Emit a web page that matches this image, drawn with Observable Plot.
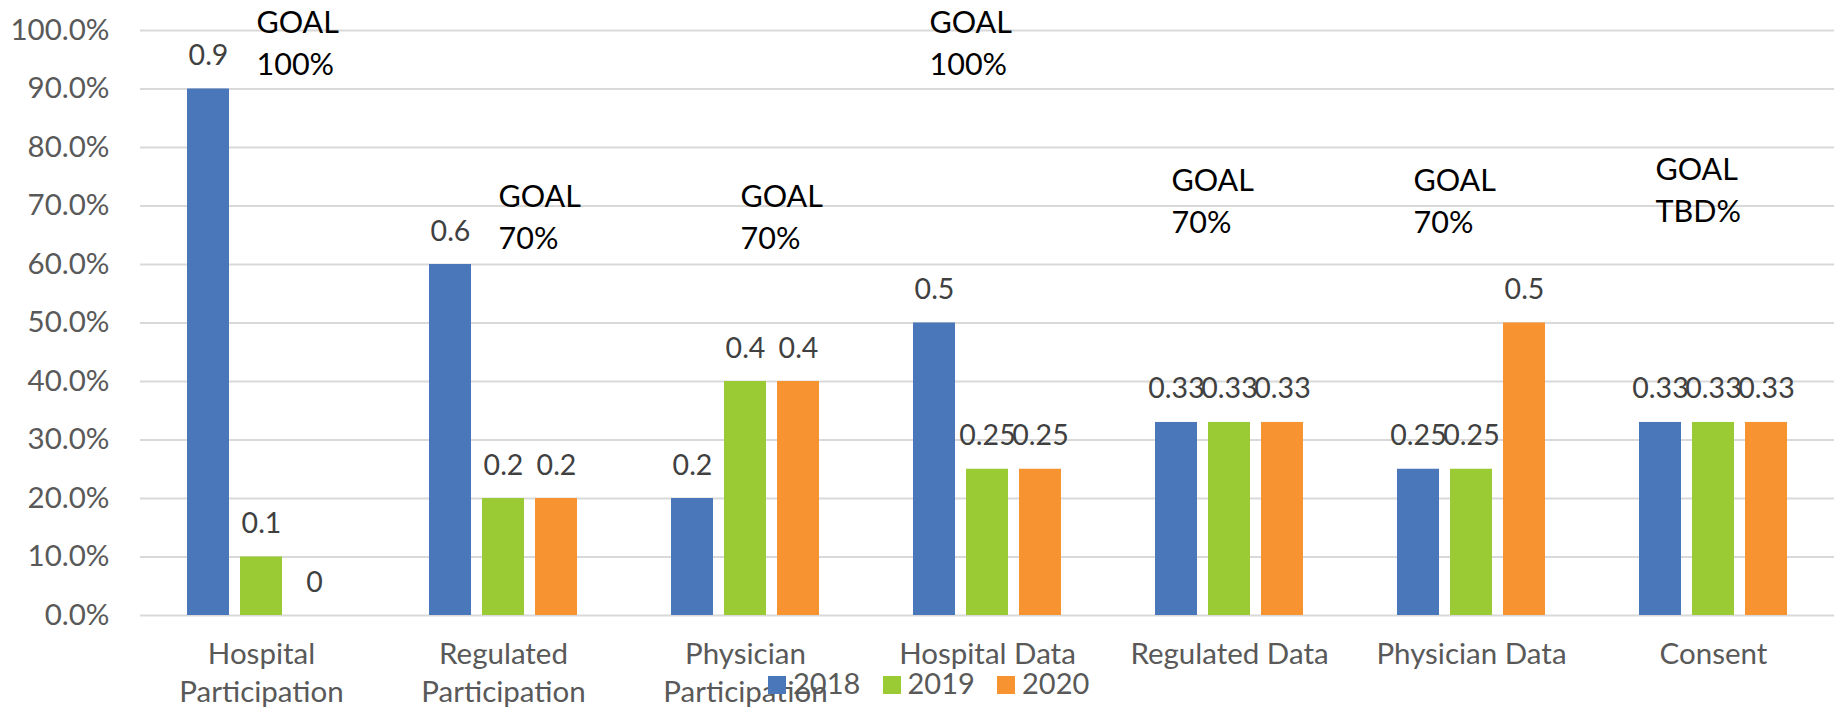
<!DOCTYPE html>
<html>
<head>
<meta charset="utf-8">
<script src="https://cdn.jsdelivr.net/npm/d3@7"></script>
<script src="https://cdn.jsdelivr.net/npm/@observablehq/plot@0.6"></script>
<style>
  html, body { margin: 0; padding: 0; background: #fff; }
  #wrap { position: relative; width: 1847px; height: 713px; font-family: Lato, "Open Sans", sans-serif; }
  #legend { position: absolute; left: 768px; top: 669px; display: flex; font-size: 29px; line-height: 28px; color: #595959; }
  #legend .item { display: flex; align-items: center; width: 114.5px; }
  #legend .sw { width: 18px; height: 18px; margin-right: 7px; position: relative; top: 2px; }
</style>
</head>
<body>
<div id="wrap"></div>
<script>
const categories = ["Hospital\nParticipation", "Regulated\nParticipation", "Physician\nParticipation", "Hospital Data", "Regulated Data", "Physician Data", "Consent"];
const years = ["2018", "2019", "2020"];
const colors = ["#4a77ba", "#9bcb34", "#f79431"];
const v2018 = [0.9, 0.6, 0.2, 0.5, 0.33, 0.25, 0.33];
const v2019 = [0.1, 0.2, 0.4, 0.25, 0.33, 0.25, 0.33];
const v2020 = [0, 0.2, 0.4, 0.25, 0.33, 0.5, 0.33];
const goalText = ["GOAL\n100%", "GOAL\n70%", "GOAL\n70%", "GOAL\n100%", "GOAL\n70%", "GOAL\n70%", "GOAL\nTBD%"];
const goalLevel = [1.0, 0.703, 0.703, 1.0, 0.73, 0.73, 0.75];
const goalAnchor = ["2019", "2019", "2019", "2018", "2018", "2018", "2018"];
const yTicks = [0, 0.1, 0.2, 0.3, 0.4, 0.5, 0.6, 0.7, 0.8, 0.9, 1.0];

const series = [v2018, v2019, v2020];
const rows = [];
categories.forEach((c, i) => years.forEach((y, j) => rows.push({category: c, year: y, value: series[j][i]})));
const goals = categories.map((c, i) => ({category: c, text: goalText[i], level: goalLevel[i], anchor: goalAnchor[i]}));

const chart = Plot.plot({
  width: 1847,
  height: 713,
  marginTop: 30,
  marginBottom: 98,
  marginLeft: 137,
  marginRight: 11,
  style: {fontFamily: "Lato, 'Open Sans', sans-serif", background: "#fff"},
  fx: {domain: categories, paddingInner: 0, paddingOuter: 0},
  x: {domain: years, paddingInner: 0.204, paddingOuter: 0.849, axis: null},
  y: {domain: [0, 1], axis: null},
  color: {domain: years, range: colors},
  marks: [
    Plot.gridY(yTicks, {stroke: "#d9d9d9", strokeOpacity: 1, strokeWidth: 2}),
    Plot.axisY(yTicks, {tickFormat: d3.format(".1%"), tickSize: 0, tickPadding: 31, fontSize: 29.5, fill: "#595959", label: null}),
    Plot.axisFx({anchor: "bottom", tickSize: 0, tickPadding: 21, fontSize: 29.5, lineHeight: 1.29, fill: "#595959", label: null}),
    Plot.barY(rows, {fx: "category", x: "year", y: "value", fill: "year"}),
    Plot.text(rows, {fx: "category", x: "year", y: "value", text: d => String(d.value), lineAnchor: "bottom", dy: -24, fontSize: 28.5, fill: "#404040"}),
    Plot.text(goals, {fx: "category", x: "anchor", y: "level", text: "text", textAnchor: "start", lineAnchor: "top", dx: -5, dy: -27, lineHeight: 1.38, fontSize: 30.5, fill: "#000"})
  ]
});

const wrap = document.getElementById("wrap");
wrap.appendChild(chart);
const legend = document.createElement("div");
legend.id = "legend";
years.forEach((y, i) => {
  const item = document.createElement("div");
  item.className = "item";
  const sw = document.createElement("span");
  sw.className = "sw";
  sw.style.background = colors[i];
  const t = document.createElement("span");
  t.textContent = y;
  item.appendChild(sw);
  item.appendChild(t);
  legend.appendChild(item);
});
wrap.appendChild(legend);
</script>
</body>
</html>
